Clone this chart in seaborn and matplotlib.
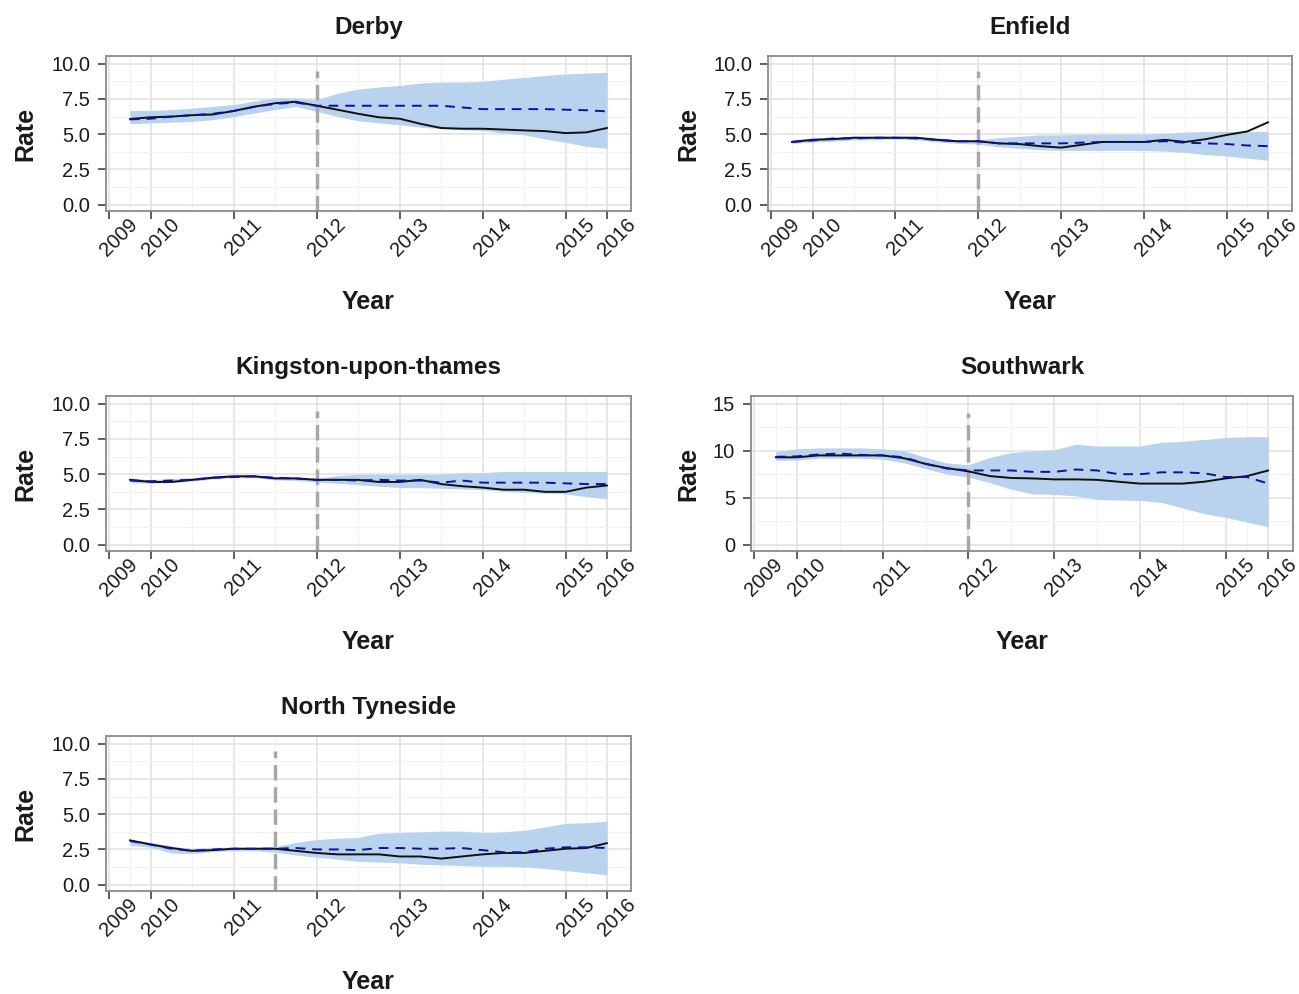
import numpy as np
import pandas as pd
import matplotlib
matplotlib.use("Agg")
import matplotlib.pyplot as plt
import seaborn as sns

sns.set_style("white")
plt.rcParams["font.family"] = ["Liberation Sans", "DejaVu Sans"]
plt.rcParams["lines.scale_dashes"] = False

# Quarterly time axis (decimal years)
quarter = [2009.75, 2010.0, 2010.25, 2010.5, 2010.75, 2011.0, 2011.25, 2011.5,
           2011.75, 2012.0, 2012.25, 2012.5, 2012.75, 2013.0, 2013.25, 2013.5,
           2013.75, 2014.0, 2014.25, 2014.5, 2014.75, 2015.0, 2015.25, 2015.5]

tick_pos = [2009.5, 2010, 2011, 2012, 2013, 2014, 2015, 2015.5]
tick_labels = ["2009", "2010", "2011", "2012", "2013", "2014", "2015", "2016"]

regions = ["Derby", "Enfield", "Kingston-upon-thames", "Southwark", "North Tyneside"]

derby_actual = [6.08, 6.2, 6.25, 6.35, 6.4, 6.65, 6.95, 7.2, 7.3, 7.02, 6.74, 6.45,
                6.2, 6.1, 5.74, 5.44, 5.39, 5.39, 5.33, 5.27, 5.22, 5.08, 5.13, 5.44]
derby_fitted = [6.05, 6.1, 6.25, 6.35, 6.45, 6.65, 6.95, 7.15, 7.25, 7.02, 7.02, 7.02,
                 7.02, 7.02, 7.02, 7.02, 6.9, 6.78, 6.78, 6.78, 6.78, 6.74, 6.7, 6.62]
derby_upper = [6.67, 6.7, 6.75, 6.85, 6.97, 7.1, 7.35, 7.6, 7.56, 7.45, 7.9, 8.2,
               8.35, 8.46, 8.63, 8.7, 8.7, 8.75, 8.9, 9.03, 9.17, 9.27, 9.34, 9.39]
derby_lower = [5.74, 5.8, 5.85, 5.9, 6.03, 6.25, 6.5, 6.75, 6.97, 6.62, 6.26, 5.95,
               5.8, 5.67, 5.5, 5.39, 5.32, 5.25, 5.08, 4.96, 4.66, 4.42, 4.14, 4.0]

enfield_actual = [4.45, 4.6, 4.65, 4.75, 4.75, 4.75, 4.75, 4.6, 4.5, 4.5, 4.35, 4.3,
                  4.15, 4.05, 4.25, 4.45, 4.45, 4.45, 4.6, 4.45, 4.65, 4.95, 5.2, 5.85]
enfield_fitted = [4.45, 4.55, 4.7, 4.7, 4.75, 4.75, 4.7, 4.6, 4.5, 4.5, 4.35, 4.35,
                  4.35, 4.35, 4.4, 4.45, 4.45, 4.45, 4.5, 4.4, 4.35, 4.3, 4.2, 4.15]
enfield_upper = [4.6, 4.75, 4.8, 4.85, 4.85, 4.85, 4.85, 4.75, 4.6, 4.6, 4.75, 4.85,
                 4.95, 4.95, 5.0, 5.0, 5.0, 5.0, 5.05, 5.15, 5.2, 5.2, 5.2, 5.2]
enfield_lower = [4.35, 4.45, 4.5, 4.6, 4.6, 4.65, 4.6, 4.45, 4.35, 4.3, 4.1, 4.0,
                 3.9, 3.85, 3.85, 3.85, 3.85, 3.85, 3.8, 3.7, 3.55, 3.45, 3.3, 3.15]

kingston_actual = [4.6, 4.45, 4.45, 4.6, 4.75, 4.85, 4.85, 4.7, 4.7, 4.6, 4.6, 4.6,
                   4.45, 4.45, 4.6, 4.3, 4.15, 4.05, 3.9, 3.9, 3.75, 3.75, 4.05, 4.2]
kingston_fitted = [4.55, 4.5, 4.55, 4.6, 4.75, 4.8, 4.85, 4.75, 4.7, 4.6, 4.6, 4.55,
                   4.6, 4.55, 4.55, 4.4, 4.55, 4.4, 4.4, 4.4, 4.4, 4.35, 4.3, 4.3]
kingston_upper = [4.75, 4.6, 4.7, 4.75, 4.9, 4.95, 4.95, 4.85, 4.8, 4.7, 4.9, 5.0,
                  5.0, 5.0, 5.0, 5.0, 5.1, 5.1, 5.2, 5.2, 5.2, 5.2, 5.2, 5.2]
kingston_lower = [4.4, 4.35, 4.4, 4.5, 4.65, 4.75, 4.75, 4.6, 4.55, 4.45, 4.35, 4.25,
                  4.15, 4.05, 4.05, 4.0, 3.95, 3.9, 3.8, 3.7, 3.65, 3.6, 3.4, 3.25]

southwark_actual = [9.3, 9.3, 9.5, 9.5, 9.5, 9.5, 9.2, 8.6, 8.15, 7.8, 7.3, 7.1,
                    7.05, 6.95, 6.95, 6.9, 6.7, 6.5, 6.5, 6.5, 6.7, 7.05, 7.3, 7.9]
southwark_fitted = [9.35, 9.4, 9.6, 9.7, 9.55, 9.5, 9.3, 8.6, 8.1, 7.9, 7.9, 7.9,
                    7.75, 7.75, 8.0, 7.9, 7.5, 7.5, 7.7, 7.7, 7.6, 7.2, 7.2, 6.5]
southwark_upper = [9.9, 10.2, 10.3, 10.3, 10.3, 10.2, 10.0, 9.3, 8.7, 8.5, 9.3, 9.8,
                   10.0, 10.1, 10.7, 10.5, 10.5, 10.5, 10.9, 11.0, 11.2, 11.4, 11.5, 11.5]
southwark_lower = [9.0, 9.0, 9.2, 9.2, 9.2, 9.1, 8.7, 8.1, 7.5, 7.2, 6.6, 5.9,
                   5.4, 5.35, 5.2, 4.8, 4.75, 4.7, 4.5, 3.9, 3.3, 2.9, 2.4, 1.9]

tyneside_actual = [3.15, 2.85, 2.6, 2.4, 2.45, 2.55, 2.55, 2.55, 2.4, 2.25, 2.15, 2.15,
                   2.15, 2.0, 2.0, 1.85, 2.0, 2.15, 2.25, 2.25, 2.4, 2.55, 2.6, 2.95]
tyneside_fitted = [3.1, 2.85, 2.55, 2.4, 2.5, 2.55, 2.55, 2.55, 2.6, 2.5, 2.5, 2.45,
                   2.6, 2.6, 2.55, 2.55, 2.6, 2.45, 2.3, 2.3, 2.55, 2.65, 2.65, 2.6]
tyneside_upper = [3.2, 3.0, 2.75, 2.55, 2.65, 2.65, 2.65, 2.7, 3.0, 3.2, 3.3, 3.35,
                  3.65, 3.7, 3.75, 3.8, 3.8, 3.7, 3.75, 3.85, 4.1, 4.35, 4.4, 4.5]
tyneside_lower = [2.8, 2.65, 2.25, 2.2, 2.35, 2.4, 2.4, 2.3, 2.1, 1.95, 1.8, 1.65,
                  1.6, 1.55, 1.45, 1.4, 1.35, 1.3, 1.3, 1.25, 1.15, 1.0, 0.85, 0.7]

intervention = [2012.0, 2012.0, 2012.0, 2012.0, 2011.5]
marker_top = [9.5, 9.5, 9.5, 14.0, 9.5]
y_ticks_small = [0, 2.5, 5, 7.5, 10]
y_ticks_large = [0, 5, 10, 15]

series = {
    "Derby": (derby_actual, derby_fitted, derby_lower, derby_upper),
    "Enfield": (enfield_actual, enfield_fitted, enfield_lower, enfield_upper),
    "Kingston-upon-thames": (kingston_actual, kingston_fitted, kingston_lower, kingston_upper),
    "Southwark": (southwark_actual, southwark_fitted, southwark_lower, southwark_upper),
    "North Tyneside": (tyneside_actual, tyneside_fitted, tyneside_lower, tyneside_upper),
}

W, H = 1299, 994
fig = plt.figure(figsize=(W / 100, H / 100), dpi=100)
PX = 72 / 100  # points per pixel

# panel boxes in pixels: left, right, top, bottom ; y-label x position
boxes = {
    "Derby": (106, 631, 56, 211, 25),
    "Enfield": (768, 1292, 56, 211, 688),
    "Kingston-upon-thames": (106, 631, 396, 551, 25),
    "Southwark": (751, 1293, 396, 551, 688),
    "North Tyneside": (106, 631, 736, 891, 25),
}

TXT = "#1a1a1a"
x_lo = quarter[0] - 0.05 * (quarter[-1] - quarter[0])
x_hi = quarter[-1] + 0.05 * (quarter[-1] - quarter[0])

for i, name in enumerate(regions):
    l, r, t, b, ylab_x = boxes[name]
    ax = fig.add_axes([l / W, 1 - b / H, (r - l) / W, (b - t) / H])
    actual, fitted, lower, upper = series[name]
    df = pd.DataFrame({"Year": quarter, "actual": actual, "fitted": fitted,
                       "lower": lower, "upper": upper})

    yt = y_ticks_large if name == "Southwark" else y_ticks_small
    step = yt[1] - yt[0]
    y_lo, y_hi = -0.045 * yt[-1], yt[-1] * 1.055
    ax.set_xlim(x_lo, x_hi)
    ax.set_ylim(y_lo, y_hi)

    # grid: major + minor
    minor_x = [(tick_pos[k] + tick_pos[k + 1]) / 2 for k in range(len(tick_pos) - 1)]
    minor_y = [v + step / 2 for v in yt[:-1]]
    ax.set_xticks(tick_pos)
    ax.set_xticks(minor_x, minor=True)
    ax.set_yticks(yt)
    ax.set_yticks(minor_y, minor=True)
    ax.grid(True, which="major", color="#e0e0e0", linewidth=1.1, zorder=0)
    ax.grid(True, which="minor", color="#f2f2f2", linewidth=0.8, zorder=0)
    ax.set_axisbelow(True)

    ax.fill_between(df["Year"], df["lower"], df["upper"], color="#B9D3EE",
                    linewidth=0, zorder=1)

    ax.plot([intervention[i], intervention[i]], [y_lo, marker_top[i]],
            color="#a8a8a8", linewidth=2.5, dashes=(11, 5), zorder=2,
            solid_capstyle="butt", dash_capstyle="butt")

    sns.lineplot(data=df, x="Year", y="actual", ax=ax, color="#111111",
                 linewidth=1.4, zorder=3)
    sns.lineplot(data=df, x="Year", y="fitted", ax=ax, color="#10109a",
                 linewidth=1.4, zorder=4)
    ax.lines[-1].set_dashes((7, 5))

    # rotated year labels placed just below and right of each tick
    ax.tick_params(axis="x", labelbottom=False)
    for pos, lab in zip(tick_pos, tick_labels):
        ax.annotate(lab, xy=(pos, 0), xycoords=("data", "axes fraction"),
                    xytext=(10 * PX, -26 * PX), textcoords="offset points",
                    rotation=45, rotation_mode="anchor", ha="center",
                    va="center", fontsize=14.5, color=TXT,
                    annotation_clip=False)

    fmt = [str(v) if name == "Southwark" else f"{v:.1f}" for v in yt]
    ax.set_yticklabels(fmt, fontsize=14.5, color=TXT)
    ax.tick_params(axis="both", which="major", length=5.5, width=1.1,
                   color="#333333", direction="out", bottom=True, left=True)
    ax.tick_params(axis="y", which="major", pad=6)
    ax.tick_params(axis="both", which="minor", length=0)

    for sp in ax.spines.values():
        sp.set_color("#8a8a8a")
        sp.set_linewidth(1.3)

    ax.set_title(name, fontsize=17.5, fontweight="bold", color=TXT, pad=16)
    ax.set_xlabel("Year", fontsize=18, fontweight="bold", color=TXT)
    ax.set_ylabel("Rate", fontsize=18, fontweight="bold", color=TXT)
    ax.xaxis.set_label_coords(((l + r) / 2) / W, 1 - (b + 91) / H,
                              transform=fig.transFigure)
    ax.xaxis.label.set_va("center")
    ax.yaxis.set_label_coords(ylab_x / W, 1 - ((t + b) / 2) / H,
                              transform=fig.transFigure)
    ax.yaxis.label.set_va("center")

fig.savefig("out.png", dpi=100, facecolor="white")
